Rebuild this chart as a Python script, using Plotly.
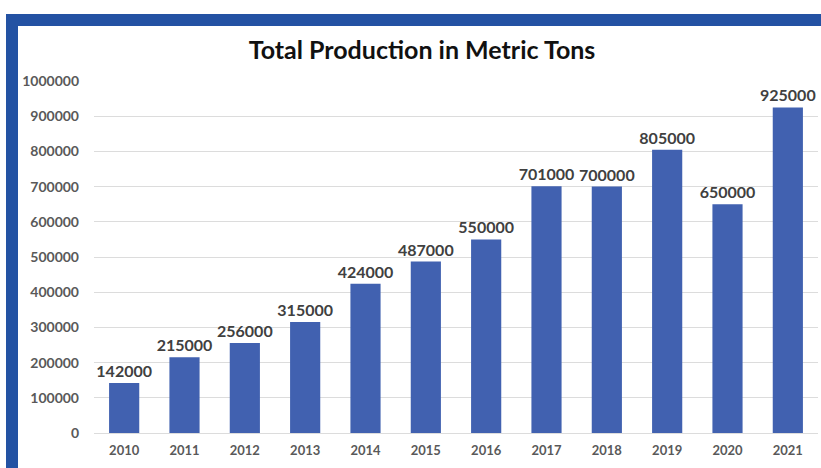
import plotly.graph_objects as go

# Annual production figures
years = ["2010", "2011", "2012", "2013", "2014", "2015",
         "2016", "2017", "2018", "2019", "2020", "2021"]
production = [142000, 215000, 256000, 315000, 424000, 487000,
              550000, 701000, 700000, 805000, 650000, 925000]
y_ticks = [0, 100000, 200000, 300000, 400000, 500000,
           600000, 700000, 800000, 900000, 1000000]

W, H = 821, 468
L, R, T, B = 94, 3, 81, 35
pw, ph = W - L - R, H - T - B


def px_x(p):
    return (p - L) / pw


def px_y(p):
    return (H - B - p) / ph


fig = go.Figure(go.Bar(
    x=years,
    y=production,
    width=0.5,
    marker=dict(color="#4161b0", line=dict(width=0)),
    text=[str(v) for v in production],
    textposition="outside",
    constraintext="none",
    textfont=dict(family="Lato", size=16, color="#404040", weight="bold"),
    cliponaxis=False,
))

fig.update_layout(
    width=W, height=H,
    margin=dict(l=L, r=R, t=T, b=B),
    paper_bgcolor="white",
    plot_bgcolor="white",
    showlegend=False,
    bargap=0.5,
    title=dict(
        text="Total Production in Metric Tons",
        font=dict(family="Lato", size=25, color="#111111", weight="bold"),
        x=422 / W, xanchor="center", xref="container",
        y=1 - 50 / H, yanchor="middle", yref="container",
    ),
    xaxis=dict(
        type="category",
        range=[-0.5, 11.5],
        showgrid=False,
        showline=False,
        ticks="",
        tickfont=dict(family="Lato", size=13, color="#595959", weight="bold"),
        ticklabelstandoff=8,
    ),
    yaxis=dict(
        range=[0, 1000000],
        tickvals=y_ticks,
        ticktext=[str(v) for v in y_ticks],
        showgrid=True,
        gridcolor="#dcdcdc",
        gridwidth=1,
        zeroline=True,
        zerolinecolor="#dcdcdc",
        zerolinewidth=1,
        showline=False,
        ticks="",
        tickfont=dict(family="Lato", size=14, color="#595959", weight="bold"),
        ticklabelstandoff=14,
    ),
    shapes=[
        # blue frame: top band
        dict(type="rect", xref="paper", yref="paper", layer="above",
             x0=px_x(6), x1=px_x(W + 2), y0=px_y(26), y1=px_y(14),
             fillcolor="#2352a3", line=dict(width=0)),
        # blue frame: left band
        dict(type="rect", xref="paper", yref="paper", layer="above",
             x0=px_x(6), x1=px_x(18), y0=px_y(H + 2), y1=px_y(14),
             fillcolor="#2352a3", line=dict(width=0)),
    ],
)

fig.write_html("out.html")
